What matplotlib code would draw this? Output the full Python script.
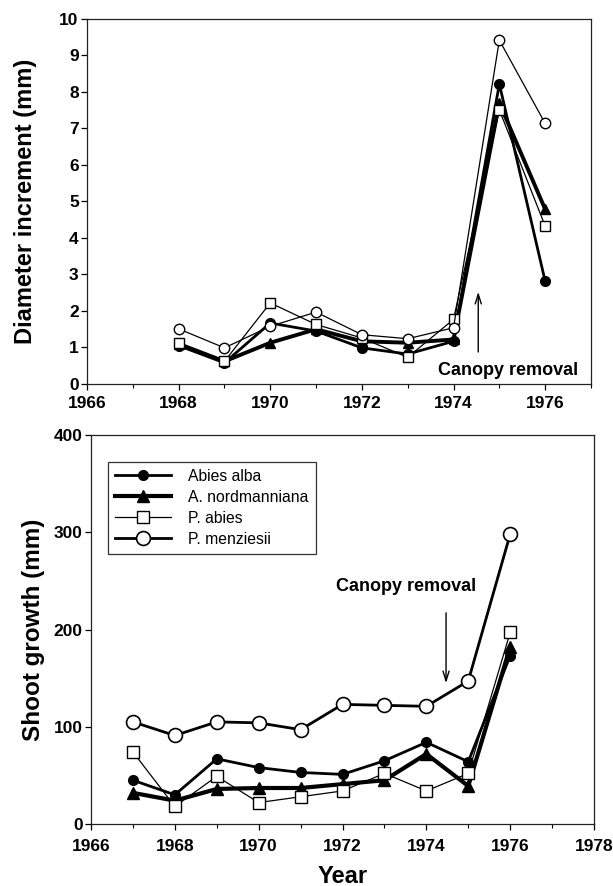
import matplotlib
matplotlib.use("Agg")
import matplotlib.pyplot as plt
from matplotlib.ticker import MultipleLocator

plt.rcParams['font.family'] = ['Liberation Sans', 'DejaVu Sans']

species = ["Abies alba", "A. nordmanniana", "P. abies", "P. menziesii"]

# Top panel: diameter increment (mm)
years_top = [1968, 1969, 1970, 1971, 1972, 1973, 1974, 1975, 1976]
diam_alba = [1.05, 0.58, 1.67, 1.45, 0.99, 0.82, 1.17, 8.22, 2.82]
diam_nord = [1.10, 0.62, 1.13, 1.50, 1.17, 1.13, 1.22, 7.70, 4.79]
diam_abies = [1.13, 0.62, 2.22, 1.63, 1.26, 0.73, 1.77, 7.51, 4.33]
diam_menz = [1.51, 0.99, 1.58, 1.97, 1.35, 1.24, 1.54, 9.42, 7.14]

# Bottom panel: shoot growth (mm)
years_bot = [1967, 1968, 1969, 1970, 1971, 1972, 1973, 1974, 1975, 1976]
shoot_alba = [45, 30, 67, 58, 53, 51, 65, 84, 64, 173]
shoot_nord = [32, 24, 36, 37, 37, 41, 45, 72, 39, 182]
shoot_abies = [74, 18, 49, 22, 28, 34, 52, 34, 52, 197]
shoot_menz = [105, 91, 105, 104, 97, 123, 122, 121, 147, 298]

fig = plt.figure(figsize=(6.13, 8.86), dpi=100)
ax1 = fig.add_axes([0.142, 0.5666, 0.822, 0.412])
ax2 = fig.add_axes([0.1485, 0.070, 0.8205, 0.439])

def style_axes(ax, xpad):
    for s in ax.spines.values():
        s.set_linewidth(0.9)
        s.set_color('#222222')
    ax.tick_params(axis='both', which='major', direction='out', length=4, width=0.9, pad=2)
    ax.tick_params(axis='x', which='major', pad=xpad)
    ax.tick_params(axis='both', which='minor', direction='out', length=3, width=0.8)
    for lab in ax.get_xticklabels() + ax.get_yticklabels():
        lab.set_fontsize(12.5)
        lab.set_fontweight('bold')

arrow_style = '->,head_width=0.22,head_length=0.7'

# ---- Top panel ----
ax1.plot(years_top, diam_alba, color='black', lw=2.0, marker='o', ms=7, mfc='black', mec='black', zorder=3)
ax1.plot(years_top, diam_nord, color='black', lw=2.8, marker='^', ms=7, mfc='black', mec='black', zorder=2)
ax1.plot(years_top, diam_abies, color='black', lw=0.9, marker='s', ms=7.5, mfc='white', mec='black', mew=1.0, zorder=4)
ax1.plot(years_top, diam_menz, color='black', lw=0.9, marker='o', ms=7.5, mfc='white', mec='black', mew=1.0, zorder=5)
ax1.set_xlim(1966, 1977)
ax1.set_ylim(0, 10)
ax1.xaxis.set_major_locator(MultipleLocator(2))
ax1.xaxis.set_minor_locator(MultipleLocator(1))
ax1.yaxis.set_major_locator(MultipleLocator(1))
ax1.set_ylabel("Diameter increment (mm)", fontsize=17, fontweight='bold', labelpad=16)
ax1.annotate("", xy=(1974.54, 2.6), xytext=(1974.54, 0.8),
             arrowprops=dict(arrowstyle=arrow_style, color='black', lw=1.0))
ax1.text(1975.2, 0.38, "Canopy removal", ha='center', va='center', fontsize=13, fontweight='bold')
style_axes(ax1, 4.5)

# ---- Bottom panel ----
l1, = ax2.plot(years_bot, shoot_alba, color='black', lw=2.0, marker='o', ms=7, mfc='black', mec='black', zorder=3)
l2, = ax2.plot(years_bot, shoot_nord, color='black', lw=3.0, marker='^', ms=8, mfc='black', mec='black', zorder=2)
l3, = ax2.plot(years_bot, shoot_abies, color='black', lw=0.9, marker='s', ms=8, mfc='white', mec='black', mew=1.0, zorder=4)
l4, = ax2.plot(years_bot, shoot_menz, color='black', lw=2.0, marker='o', ms=10, mfc='white', mec='black', mew=1.2, zorder=5)
ax2.set_xlim(1966, 1978)
ax2.set_ylim(0, 400)
ax2.xaxis.set_major_locator(MultipleLocator(2))
ax2.xaxis.set_minor_locator(MultipleLocator(1))
ax2.yaxis.set_major_locator(MultipleLocator(100))
ax2.set_ylabel("Shoot growth (mm)", fontsize=17.5, fontweight='bold', labelpad=6)
ax2.set_xlabel("Year", fontsize=17, fontweight='bold', labelpad=8)
ax2.annotate("", xy=(1974.47, 142), xytext=(1974.47, 220),
             arrowprops=dict(arrowstyle=arrow_style, color='black', lw=1.0))
ax2.text(1973.52, 244, "Canopy removal", ha='center', va='center', fontsize=13, fontweight='bold')
leg = ax2.legend([l1, l2, l3, l4], species, loc='upper left', bbox_to_anchor=(0.033, 0.931),
                 fontsize=11.3, frameon=True, fancybox=False, edgecolor='black',
                 handlelength=3.6, handletextpad=1.1, labelspacing=0.38, borderpad=0.45,
                 borderaxespad=0.0)
leg.get_frame().set_linewidth(0.9)
style_axes(ax2, 6.5)

fig.savefig("out.png", dpi=100)
